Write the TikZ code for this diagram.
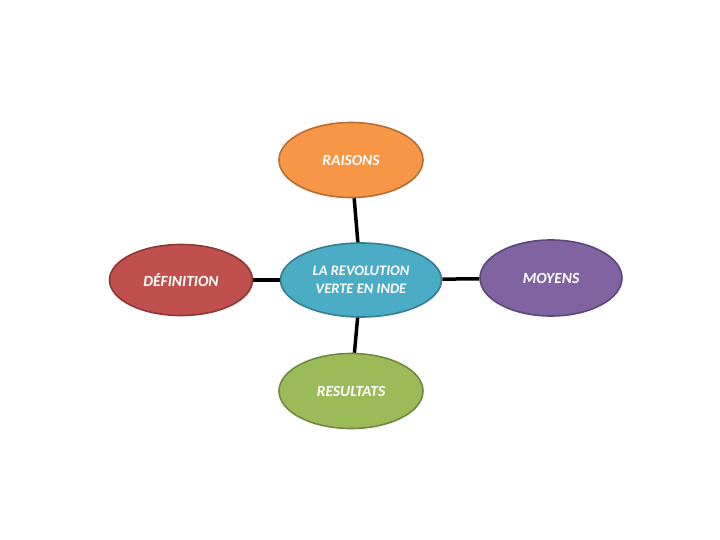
\documentclass[tikz,border=0pt]{standalone}
\usepackage{fontspec}
\setmainfont{Carlito}
\usetikzlibrary{shapes}
\definecolor{raisonsfill}{HTML}{F79646}
\definecolor{raisonsline}{HTML}{B66D31}
\definecolor{deffill}{HTML}{C0504D}
\definecolor{defline}{HTML}{8C3836}
\definecolor{centrefill}{HTML}{4BACC6}
\definecolor{centreline}{HTML}{357D91}
\definecolor{moyfill}{HTML}{8064A2}
\definecolor{moyline}{HTML}{5C4776}
\definecolor{resfill}{HTML}{9BBB59}
\definecolor{resline}{HTML}{71893F}
\tikzset{
  bulle/.style={ellipse,draw,line width=1.6pt,inner sep=0pt,
    minimum width=144pt,minimum height=75pt,text=white,
    font=\bfseries\itshape\fontsize{15.5}{18}\selectfont,align=center},
  lien/.style={line width=3.5pt,black}
}

\begin{document}
\begin{tikzpicture}[x=1pt,y=-1pt]
\useasboundingbox (0,0) rectangle (720,540);
\draw (351,160) node[bulle,fill=raisonsfill,draw=raisonsline](raisons){RAISONS};
\draw (181,280) node[bulle,fill=deffill,draw=defline,minimum width=143pt,minimum height=71pt](definition){DÉFINITION};
\draw (551,278) node[bulle,fill=moyfill,draw=moyline,minimum width=142pt,minimum height=76pt](moyens){MOYENS};
\draw (351,391) node[bulle,fill=resfill,draw=resline](resultats){RESULTATS};
\draw (361,280) node[bulle,fill=centrefill,draw=centreline,minimum width=161pt,minimum height=74pt,
  font=\bfseries\itshape\fontsize{14.5}{18}\selectfont](centre){LA REVOLUTION\\VERTE EN INDE};
\draw[lien] (raisons) -- (centre);
\draw[lien] (definition) -- (centre);
\draw[lien] (centre) -- (moyens);
\draw[lien] (centre) -- (resultats);
\end{tikzpicture}
\end{document}
